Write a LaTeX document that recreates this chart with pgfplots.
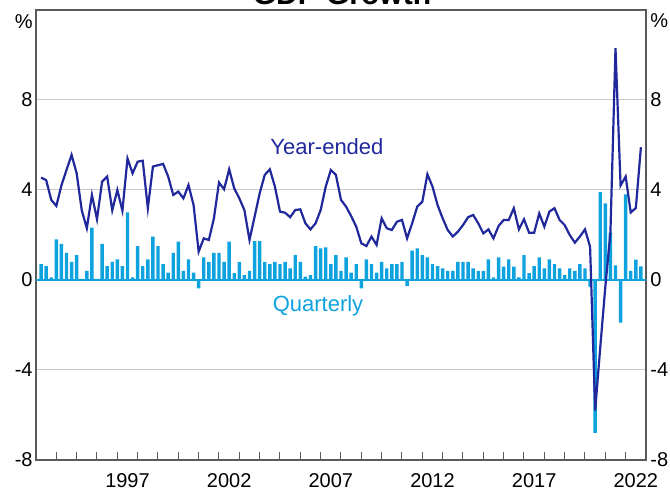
\documentclass[border=0pt]{standalone}
\usepackage{pgfplots}
\pgfplotsset{compat=1.18}
\usepackage{pgfplotstable}
\usepackage{fontspec}
\setmainfont{Liberation Sans}
\definecolor{lineblue}{RGB}{32,40,155}
\definecolor{barblue}{RGB}{14,162,222}
\definecolor{gridgray}{RGB}{200,200,200}
\definecolor{framegray}{RGB}{90,90,90}

\pgfplotstableread{
t q y
1993.25 0.71 4.55
1993.50 0.62 4.44
1993.75 0.12 3.56
1994.00 1.81 3.29
1994.25 1.60 4.20
1994.50 1.21 4.89
1994.75 0.81 5.56
1995.00 1.11 4.74
1995.25 0.05 3.10
1995.50 0.41 2.30
1995.75 2.33 3.78
1996.00 0.05 2.70
1996.25 1.60 4.37
1996.50 0.62 4.60
1996.75 0.81 3.10
1997.00 0.92 4.00
1997.25 0.62 3.08
1997.50 3.00 5.40
1997.75 0.12 4.74
1998.00 1.51 5.26
1998.25 0.62 5.30
1998.50 0.92 3.19
1998.75 1.93 5.04
1999.00 1.51 5.10
1999.25 0.71 5.16
1999.50 0.33 4.60
1999.75 1.21 3.78
2000.00 1.70 3.93
2000.25 0.41 3.63
2000.50 0.92 4.22
2000.75 0.33 3.33
2001.00 -0.37 1.26
2001.25 1.00 1.85
2001.50 0.81 1.78
2001.75 1.21 2.74
2002.00 1.21 4.33
2002.25 0.81 4.03
2002.50 1.70 4.92
2002.75 0.30 4.07
2003.00 0.81 3.63
2003.25 0.22 3.10
2003.50 0.41 1.78
2003.75 1.73 2.81
2004.00 1.73 3.85
2004.25 0.80 4.67
2004.50 0.71 4.92
2004.75 0.80 4.15
2005.00 0.71 3.04
2005.25 0.80 2.99
2005.50 0.52 2.79
2005.75 1.11 3.11
2006.00 0.80 3.14
2006.25 0.15 2.52
2006.50 0.22 2.25
2006.75 1.51 2.52
2007.00 1.41 3.11
2007.25 1.45 4.15
2007.50 0.71 4.89
2007.75 1.11 4.67
2008.00 0.41 3.56
2008.25 1.00 3.26
2008.50 0.33 2.84
2008.75 0.71 2.37
2009.00 -0.37 1.63
2009.25 0.92 1.51
2009.50 0.71 1.93
2009.75 0.33 1.56
2010.00 0.81 2.74
2010.25 0.52 2.30
2010.50 0.71 2.22
2010.75 0.71 2.59
2011.00 0.81 2.67
2011.25 -0.27 1.85
2011.50 1.30 2.52
2011.75 1.41 3.26
2012.00 1.11 3.48
2012.25 1.00 4.70
2012.50 0.71 4.15
2012.75 0.62 3.33
2013.00 0.52 2.74
2013.25 0.41 2.22
2013.50 0.41 1.93
2013.75 0.81 2.15
2014.00 0.81 2.44
2014.25 0.81 2.79
2014.50 0.52 2.89
2014.75 0.41 2.52
2015.00 0.41 2.07
2015.25 0.92 2.25
2015.50 0.12 1.85
2015.75 1.00 2.40
2016.00 0.59 2.67
2016.25 0.92 2.67
2016.50 0.59 3.19
2016.75 0.12 2.25
2017.00 1.11 2.70
2017.25 0.30 2.10
2017.50 0.62 2.10
2017.75 1.00 2.96
2018.00 0.52 2.37
2018.25 0.92 3.04
2018.50 0.71 3.19
2018.75 0.52 2.67
2019.00 0.22 2.44
2019.25 0.52 2.00
2019.50 0.41 1.66
2019.75 0.71 1.93
2020.00 0.52 2.25
2020.25 -0.30 1.48
2020.50 -6.80 -5.80
2020.75 3.90 -3.00
2021.00 3.40 -0.30
2021.25 2.10 2.10
2021.50 0.65 10.30
2021.75 -1.90 4.20
2022.00 3.80 4.60
2022.25 0.40 3.00
2022.50 0.90 3.20
2022.75 0.60 5.90
}\gdpdata

\begin{document}
\begin{tikzpicture}
\begin{axis}[
  at={(0,0)}, anchor=south west,
  width=305pt, height=225pt, scale only axis,
  xmin=1993, xmax=2023, ymin=-8, ymax=12,
  clip=false,
  axis line style={framegray, line width=0.7pt},
  ytick={-8,-4,0,4,8},
  ymajorgrids, grid style={gridgray, line width=0.5pt},
  ytick pos=left,
  y tick style={draw=none},
  yticklabel style={font=\fontsize{10}{12}\selectfont, inner xsep=1.5pt},
  /pgf/number format/assume math mode=true,
  xtick={1994,...,2022},
  xticklabels={},
  xtick pos=left,
  tick align=inside,
  major tick length=4pt,
  x tick style={framegray, line width=0.5pt},
  extra x ticks={1997.5,2002.5,2007.5,2012.5,2017.5,2022.5},
  extra x tick labels={1997,2002,2007,2012,2017,2022},
  extra x tick style={major tick length=0pt, xticklabel style={font=\fontsize{10}{12}\selectfont, yshift=-3pt}},
]
\addplot[barblue, line width=0.6pt, forget plot] coordinates {(1993,0) (2023,0)};
\addplot[ybar, bar width=0.17, fill=barblue, draw=none] table[x=t,y=q] {\gdpdata};
\addplot[lineblue, line width=1.1pt, mark=none] table[x=t,y=y] {\gdpdata};
\node[lineblue, font=\fontsize{11}{13}\selectfont, anchor=base] at (axis cs:2007.31,5.56) {Year-ended};
\node[barblue, font=\fontsize{11}{13}\selectfont, anchor=base] at (axis cs:2006.87,-1.42) {Quarterly};
\node[anchor=east, inner xsep=1.5pt, yshift=-5.75pt, font=\fontsize{10}{12}\selectfont] at (rel axis cs:0,1) {\%};
\node[anchor=west, inner xsep=2pt, yshift=-5.5pt, font=\fontsize{10}{12}\selectfont] at (rel axis cs:1,1) {\%};
\node[anchor=base, yshift=2.5pt, font=\bfseries\fontsize{15}{18}\selectfont] at (rel axis cs:0.5016,1) {GDP Growth};
\end{axis}
\begin{axis}[
  at={(0,0)}, anchor=south west,
  width=305pt, height=225pt, scale only axis,
  xmin=1993, xmax=2023, ymin=-8, ymax=12,
  hide x axis,
  axis y line*=right,
  y axis line style={draw=none},
  ytick={-8,-4,0,4,8},
  y tick style={draw=none},
  yticklabel style={font=\fontsize{10}{12}\selectfont, inner xsep=2pt},
  /pgf/number format/assume math mode=true,
]
\addplot[draw=none] coordinates {(2000,0)};
\end{axis}
\pgfresetboundingbox
\path[use as bounding box] (-18pt,-18pt) rectangle (317pt,230pt);
\end{tikzpicture}
\end{document}
